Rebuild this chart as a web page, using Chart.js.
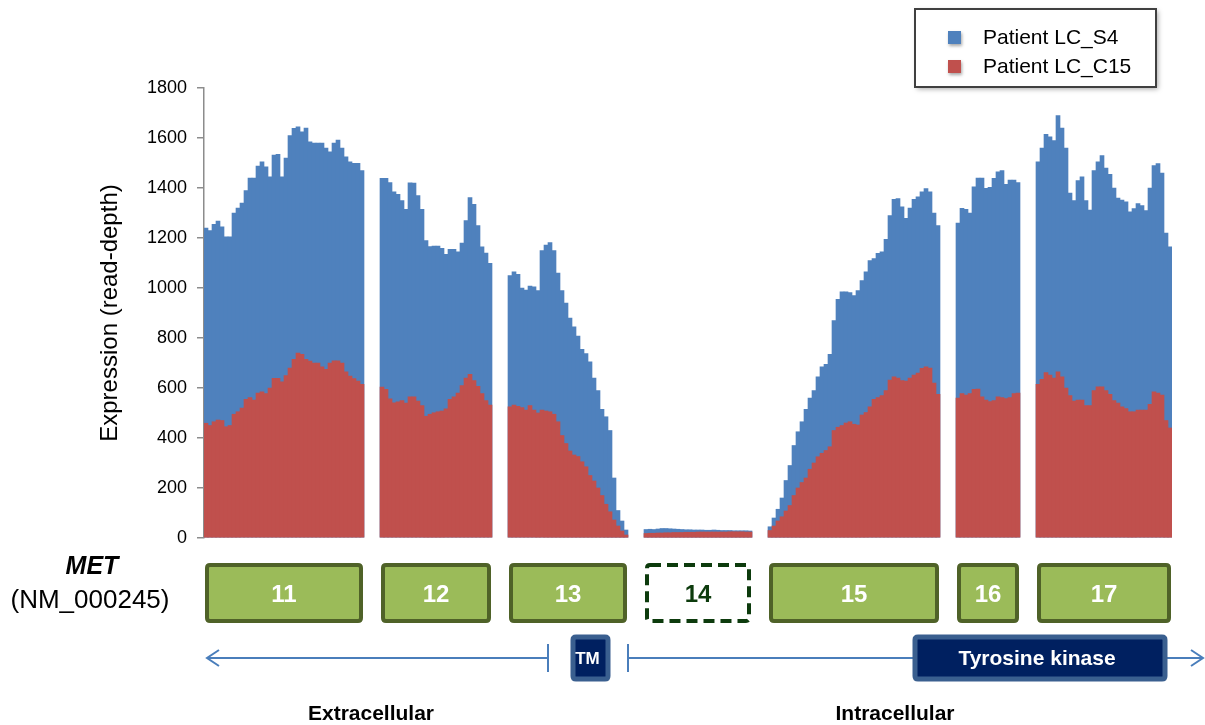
<!DOCTYPE html>
<html>
<head>
<meta charset="utf-8">
<script src="https://cdn.jsdelivr.net/npm/chart.js@4.4.0/dist/chart.umd.min.js"></script>
<style>
  html, body { margin: 0; padding: 0; background: #fff; }
  #wrap { position: relative; width: 1205px; height: 725px; }
</style>
</head>
<body>
<div id="wrap"><canvas id="chart" width="1205" height="725"></canvas></div>
<script>
// MET exons 11-17: per-exon read depth along each exon, two patients
const exonNames = ['11', '12', '13', '14', '15', '16', '17'];
const skippedExon = '14';

const s4_e11 = [1240, 1230, 1255, 1268, 1245, 1205, 1205, 1300, 1320, 1340, 1390, 1440, 1440, 1488, 1505, 1485, 1445, 1532, 1535, 1445, 1520, 1610, 1639, 1645, 1625, 1640, 1585, 1580, 1580, 1580, 1560, 1545, 1580, 1592, 1560, 1525, 1505, 1499, 1499, 1470];
const s4_e12 = [1439, 1439, 1422, 1385, 1375, 1350, 1315, 1421, 1420, 1370, 1315, 1190, 1166, 1168, 1168, 1159, 1135, 1155, 1155, 1145, 1180, 1270, 1362, 1335, 1250, 1165, 1140, 1099];
const s4_e13 = [1050, 1065, 1055, 1000, 992, 1008, 1005, 990, 1150, 1172, 1182, 1150, 1060, 990, 940, 880, 845, 808, 755, 738, 705, 640, 590, 515, 485, 430, 240, 110, 68, 32];
const s4_e14 = [34, 35, 34, 36, 38, 38, 37, 36, 35, 34, 33, 33, 32, 32, 32, 31, 31, 32, 31, 30, 30, 30, 29, 29, 29, 29, 28];
const s4_e15 = [45, 80, 115, 160, 230, 290, 370, 425, 465, 515, 560, 590, 645, 685, 695, 735, 870, 955, 985, 985, 982, 970, 990, 1030, 1065, 1110, 1118, 1139, 1145, 1195, 1290, 1355, 1358, 1325, 1279, 1320, 1355, 1365, 1385, 1398, 1385, 1300, 1250];
const s4_e16 = [1260, 1319, 1315, 1300, 1405, 1440, 1440, 1399, 1403, 1439, 1465, 1470, 1415, 1432, 1432, 1422];
const s4_e17 = [1505, 1560, 1615, 1605, 1590, 1690, 1640, 1560, 1380, 1350, 1430, 1445, 1350, 1312, 1470, 1505, 1530, 1480, 1455, 1400, 1360, 1352, 1345, 1305, 1318, 1338, 1330, 1310, 1400, 1490, 1498, 1460, 1220, 1165];

const c15_e11 = [459, 450, 465, 472, 470, 445, 450, 495, 505, 520, 555, 562, 552, 580, 585, 578, 600, 639, 639, 625, 650, 680, 715, 740, 735, 715, 708, 700, 700, 685, 675, 700, 709, 709, 700, 665, 648, 638, 628, 615];
const c15_e12 = [604, 595, 557, 541, 545, 550, 540, 565, 565, 548, 530, 487, 495, 501, 505, 508, 517, 555, 565, 580, 610, 640, 655, 630, 607, 578, 550, 532];
const c15_e13 = [525, 532, 527, 522, 512, 530, 512, 500, 512, 508, 505, 495, 465, 410, 378, 348, 332, 326, 305, 285, 250, 228, 200, 170, 135, 105, 72, 48, 28, 12];
const c15_e14 = [18, 19, 19, 20, 20, 21, 21, 22, 22, 22, 23, 23, 23, 24, 24, 24, 24, 24, 24, 24, 24, 25, 25, 25, 25, 24, 24];
const c15_e15 = [30, 48, 68, 85, 108, 130, 170, 200, 222, 240, 275, 300, 325, 339, 350, 365, 430, 443, 450, 460, 465, 455, 452, 492, 502, 525, 555, 562, 570, 590, 632, 645, 640, 630, 628, 640, 652, 660, 679, 685, 680, 620, 575];
const c15_e16 = [560, 578, 572, 578, 595, 596, 565, 552, 546, 550, 565, 562, 558, 562, 578, 580];
const c15_e17 = [615, 635, 662, 652, 640, 665, 645, 600, 570, 548, 552, 552, 530, 530, 590, 605, 605, 590, 575, 550, 540, 525, 518, 505, 505, 512, 512, 512, 535, 585, 580, 572, 470, 440];

const yTicks = [0, 200, 400, 600, 800, 1000, 1200, 1400, 1600, 1800];
const seriesNames = ['Patient LC_S4', 'Patient LC_C15'];

const s4Parts = [s4_e11, s4_e12, s4_e13, s4_e14, s4_e15, s4_e16, s4_e17];
const c15Parts = [c15_e11, c15_e12, c15_e13, c15_e14, c15_e15, c15_e16, c15_e17];

// Lay exons side by side on one category axis, with empty slots between them
const GAP = 4;
const labels = [], s4 = [], c15 = [], exonRanges = [];
exonNames.forEach((name, i) => {
  if (i > 0) {
    for (let g = 0; g < GAP; g++) { labels.push('gap' + i + '_' + g); s4.push(null); c15.push(null); }
  }
  const start = labels.length;
  s4Parts[i].forEach((v, k) => { labels.push(name + ':' + k); s4.push(v); c15.push(c15Parts[i][k]); });
  exonRanges.push({ name, start, end: labels.length - 1 });
});

const FONT = '"Liberation Sans", Arial, sans-serif';
const BLUE = '#4F81BD', RED = '#C0504D';

function roundRect(ctx, x, y, w, h, r) {
  ctx.beginPath();
  ctx.moveTo(x + r, y);
  ctx.lineTo(x + w - r, y);
  ctx.quadraticCurveTo(x + w, y, x + w, y + r);
  ctx.lineTo(x + w, y + h - r);
  ctx.quadraticCurveTo(x + w, y + h, x + w - r, y + h);
  ctx.lineTo(x + r, y + h);
  ctx.quadraticCurveTo(x, y + h, x, y + h - r);
  ctx.lineTo(x, y + r);
  ctx.quadraticCurveTo(x, y, x + r, y);
  ctx.closePath();
}

function text(ctx, str, x, y, font, color, align) {
  ctx.save();
  ctx.font = font;
  ctx.fillStyle = color;
  ctx.textAlign = align || 'center';
  ctx.textBaseline = 'middle';
  ctx.fillText(str, x, y);
  ctx.restore();
}

// Legend box in the top right corner
const legendBox = {
  id: 'legendBox',
  afterDraw(chart) {
    const ctx = chart.ctx;
    ctx.save();
    ctx.shadowColor = 'rgba(0,0,0,0.35)';
    ctx.shadowBlur = 5;
    ctx.shadowOffsetX = 2;
    ctx.shadowOffsetY = 2;
    ctx.fillStyle = '#fff';
    ctx.fillRect(915, 9, 241, 78);
    ctx.restore();
    ctx.save();
    ctx.strokeStyle = '#404040';
    ctx.lineWidth = 2;
    ctx.strokeRect(915, 9, 241, 78);
    ctx.restore();
    chart.data.datasets.forEach((ds, i) => {
      const y = 38 + i * 29;
      ctx.save();
      ctx.shadowColor = 'rgba(0,0,0,0.35)';
      ctx.shadowBlur = 3;
      ctx.shadowOffsetX = 1;
      ctx.shadowOffsetY = 2;
      ctx.fillStyle = ds.backgroundColor;
      ctx.fillRect(948, y - 7, 13, 13);
      ctx.restore();
      text(ctx, ds.label, 983, y, '21px ' + FONT, '#000', 'left');
    });
  }
};

// Gene model below the plot: exon boxes, domains and topology arrows
const geneModel = {
  id: 'geneModel',
  afterDraw(chart) {
    const ctx = chart.ctx;
    const xs = chart.scales.x;
    const step = xs.getPixelForValue(1) - xs.getPixelForValue(0);

    text(ctx, 'MET', 92, 567, 'italic bold 25px ' + FONT, '#000');
    text(ctx, '(NM_000245)', 90, 601, '26px ' + FONT, '#000');

    exonRanges.forEach(r => {
      const x0 = xs.getPixelForValue(r.start) - step / 2 + 1;
      const x1 = xs.getPixelForValue(r.end) + step / 2 - 1;
      const top = 565, h = 56;
      ctx.save();
      if (r.name === skippedExon) {
        roundRect(ctx, x0 + 2, top, x1 - x0 - 4, h, 3);
        ctx.fillStyle = '#fff';
        ctx.fill();
        ctx.setLineDash([11, 6]);
        ctx.lineWidth = 4;
        ctx.strokeStyle = '#0D3B0D';
        ctx.stroke();
        ctx.restore();
        text(ctx, r.name, (x0 + x1) / 2, top + h / 2 + 2, 'bold 24px ' + FONT, '#0D3B0D');
      } else {
        roundRect(ctx, x0 + 2, top, x1 - x0 - 4, h, 3);
        ctx.fillStyle = '#9BBB59';
        ctx.fill();
        ctx.lineWidth = 4;
        ctx.strokeStyle = '#4F6228';
        ctx.stroke();
        ctx.restore();
        text(ctx, r.name, (x0 + x1) / 2, top + h / 2 + 2, 'bold 24px ' + FONT, '#fff');
      }
    });

    // topology arrows
    const ay = 658;
    ctx.save();
    ctx.strokeStyle = '#4A7EBB';
    ctx.lineWidth = 2;
    ctx.beginPath();
    ctx.moveTo(207, ay); ctx.lineTo(548, ay);
    ctx.moveTo(219, ay - 8); ctx.lineTo(207, ay); ctx.lineTo(219, ay + 8);
    ctx.moveTo(548, ay - 14); ctx.lineTo(548, ay + 14);
    ctx.moveTo(628, ay - 14); ctx.lineTo(628, ay + 14);
    ctx.moveTo(628, ay); ctx.lineTo(1203, ay);
    ctx.moveTo(1191, ay - 8); ctx.lineTo(1203, ay); ctx.lineTo(1191, ay + 8);
    ctx.stroke();
    ctx.restore();

    // domain boxes
    [[573, 35, 'TM', 'bold 17px '], [915, 250, 'Tyrosine kinase', 'bold 21px ']].forEach(([x, w, label, f]) => {
      ctx.save();
      roundRect(ctx, x, 637, w, 42, 3);
      ctx.fillStyle = '#002060';
      ctx.fill();
      ctx.lineWidth = 5;
      ctx.strokeStyle = '#3A5F8F';
      ctx.stroke();
      ctx.restore();
      text(ctx, label, x + w / 2 - 3, 659, f + FONT, '#fff');
    });

    text(ctx, 'Extracellular', 371, 714, 'bold 21px ' + FONT, '#000');
    text(ctx, 'Intracellular', 895, 714, 'bold 21px ' + FONT, '#000');
  }
};

new Chart(document.getElementById('chart'), {
  type: 'bar',
  data: {
    labels,
    datasets: [
      { label: seriesNames[0], data: s4, backgroundColor: BLUE, order: 2 },
      { label: seriesNames[1], data: c15, backgroundColor: RED, order: 1 }
    ]
  },
  options: {
    responsive: false,
    animation: false,
    devicePixelRatio: 1,
    layout: { padding: { left: 0, top: 88, right: 33, bottom: 187 } },
    datasets: {
      bar: { grouped: false, barPercentage: 1, categoryPercentage: 1, borderWidth: 0 }
    },
    plugins: { legend: { display: false }, tooltip: { enabled: false } },
    scales: {
      x: { type: 'category', display: false, offset: true, grid: { display: false } },
      y: {
        min: yTicks[0],
        max: yTicks[yTicks.length - 1],
        afterBuildTicks(scale) { scale.ticks = yTicks.map(v => ({ value: v })); },
        afterFit(scale) { scale.width = 204; },
        ticks: {
          callback: v => String(v),
          color: '#000',
          padding: 10,
          font: { family: FONT, size: 18 }
        },
        border: { display: true, color: '#8C8C8C', width: 1.5 },
        grid: { drawOnChartArea: false, drawTicks: true, tickLength: 7, color: '#8C8C8C', lineWidth: 1.5 },
        title: {
          display: true,
          text: 'Expression (read-depth)',
          color: '#000',
          font: { family: FONT, size: 24 },
          padding: { top: 96, bottom: 0 }
        }
      }
    }
  },
  plugins: [legendBox, geneModel]
});
</script>
</body>
</html>
